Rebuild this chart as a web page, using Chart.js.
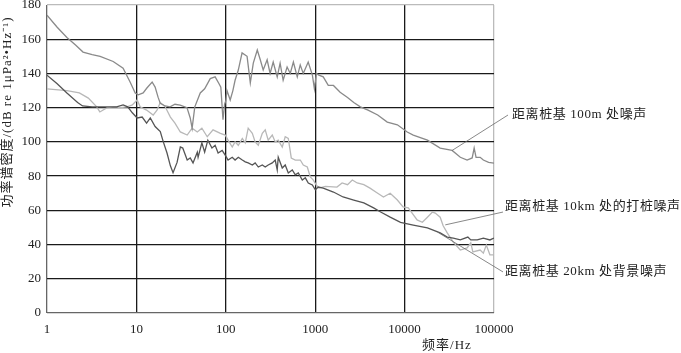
<!DOCTYPE html>
<html>
<head>
<meta charset="utf-8">
<script src="https://cdn.jsdelivr.net/npm/chart.js@4.4.0/dist/chart.umd.min.js"></script>
<style>
    html, body { margin: 0; padding: 0; background: #fff; }
</style>
</head>
<body>
<canvas id="myChart" width="681" height="353"></canvas>
<script>
const xTicks = [1, 10, 100, 1000, 10000, 100000];

// 距离桩基 100m 处噪声
const freqA = [1, 1.3, 1.67, 2.1, 2.53, 3.2, 3.93, 5.5, 7.1, 8.5, 9.7, 10.5, 11.9, 13.1, 15, 16.2, 17.5, 18.5, 21, 23.8, 27, 30.9, 36.8, 40, 42, 45, 51.8, 58, 67, 76, 84, 88, 93, 97, 100, 103, 112, 120, 127, 138, 152, 173, 188, 203, 225, 243, 262, 290, 313, 339, 376, 405, 438, 485, 526, 570, 630, 680, 735, 835, 930, 980, 1030, 1100, 1230, 1400, 1600, 1900, 2300, 2700, 3200, 3900, 5000, 6400, 8300, 10700, 12500, 18000, 25000, 34000, 42000, 50000, 57000, 60000, 63000, 70000, 76000, 87000, 100000];
const dbA = [174, 167, 161, 156.5, 152.5, 151, 150, 147, 143, 135, 128.5, 127.5, 128.6, 131.5, 135, 132, 126, 122.5, 121, 120.5, 122, 121.5, 120, 114, 108, 120.5, 128.6, 131, 137, 138, 134, 132, 113, 122, 124, 130, 124.5, 130, 136, 142, 152, 150, 134.5, 146, 153.7, 148, 142, 148, 140, 146.7, 138, 146, 136, 143.8, 140, 146.7, 138, 145, 140, 146.7, 139, 131, 140, 139, 138, 133, 133, 129, 126, 123, 120.5, 118.6, 115.7, 111.6, 110, 105.8, 104, 101, 96.4, 95, 91, 89.4, 90.6, 96.4, 91, 91, 89.4, 88, 87.6];

// 距离桩基 10km 处的打桩噪声
const freqB = [1, 1.67, 2.3, 2.9, 3.6, 3.9, 4.7, 5.8, 6.6, 7.9, 9, 10.2, 11, 13, 15.4, 17, 18.5, 21, 24, 27, 31, 37, 42, 48, 54, 62, 72, 87, 98.5, 106, 118, 127, 138, 153, 165, 178, 198, 213, 231, 256, 276, 298, 331, 357, 386, 428, 462, 500, 540, 599, 681, 736, 816, 881, 953, 1029, 1100, 1300, 1750, 2000, 2300, 2600, 2950, 3500, 4100, 5000, 5800, 6900, 8300, 9600, 11000, 13800, 15800, 18000, 20500, 22000, 25000, 27000, 30000, 35000, 42000, 50000, 55000, 58000, 70000, 76000, 82000, 90000, 100000];
const dbB = [131, 130, 128.6, 125.6, 120.5, 117.5, 120, 120.5, 120, 120.5, 121.6, 124.5, 120.5, 118.6, 115.7, 118.6, 123, 120.5, 114.5, 111, 105.8, 104, 108, 105.8, 108, 103, 107, 105, 104, 101, 97, 100, 98, 102, 99.4, 108, 105, 100, 98, 105, 107, 101, 104, 100, 101, 97, 103, 102, 90.6, 89.4, 89.4, 86.5, 85.3, 79.5, 77.7, 74.8, 73, 74, 73.6, 76, 75, 77.7, 76, 75, 73, 70, 67.8, 70, 66, 62, 61.4, 54.4, 53, 56, 59, 58.4, 56, 51, 46.8, 41.5, 36.8, 38, 41, 35.7, 36.8, 35, 39.7, 34, 34];

// 距离桩基 20km 处背景噪声
const freqC = [1, 1.3, 1.67, 2.2, 2.5, 3.2, 3.9, 5, 6, 7.1, 8, 9, 10.2, 11.6, 13, 14.3, 16.2, 18.5, 20, 22, 24, 25.7, 28.5, 31, 33, 37, 40, 43, 48, 49, 54, 58, 63, 70, 76, 82, 91, 98.5, 106, 118, 127, 138, 153, 165, 178, 198, 213, 231, 256, 276, 298, 331, 357, 376, 386, 428, 462, 500, 554, 599, 647, 717, 775, 837, 929, 1003, 1083, 1230, 1600, 2050, 2700, 3500, 4500, 5400, 6900, 9000, 12500, 18000, 25000, 30000, 35000, 42000, 51000, 55000, 65000, 76000, 90000, 100000];
const dbC = [139, 134, 128.6, 123, 121, 120.5, 120.5, 120.5, 120.5, 121.6, 120.5, 117, 114, 114.5, 111, 114, 109, 106, 100, 93.5, 86, 82, 88, 97, 96.4, 89.4, 90.6, 87.7, 94, 91, 99.4, 94, 101, 96.4, 98, 93.5, 95, 92.3, 89.4, 91, 89.4, 91, 89.4, 88.3, 87.7, 86.5, 87.7, 85.3, 86.5, 85.3, 86.5, 87.7, 89.4, 83.6, 91, 84.7, 86.5, 81.8, 83.6, 80.7, 81.8, 77.7, 79, 76, 74.8, 72, 73.6, 73, 70.7, 67.8, 66, 64.3, 61.4, 59, 56, 53, 51.4, 49.7, 46.8, 44.4, 43.8, 42.7, 44.4, 42.7, 42.7, 43.8, 42.7, 43.8];

const labels = ['距离桩基 100m 处噪声', '距离桩基 10km 处的打桩噪声', '距离桩基 20km 处背景噪声'];
// point on the curve each leader line starts from
const anchorFreq = [34000, 28500, 23300];
const anchorDb = [95, 51.5, 47.3];

function toPoints(xs, ys) {
    return xs.map((x, i) => ({ x: x, y: ys[i] }));
}

const serif = "'Liberation Serif', 'DejaVu Serif', serif";
const mixed = "'Liberation Serif', 'Noto Sans CJK SC', serif";

const annotate = {
    id: 'annotate',
    afterDraw(chart) {
        const ctx = chart.ctx;
        const xs = chart.scales.x;
        const ys = chart.scales.y;
        const right = chart.chartArea.right;

        // leader end (px offset from right edge, dB) and text (px offset, dB)
        const ends = [[14, 115.7], [9, 59], [9, 24]];
        const texts = [[18, 115.7], [11, 62], [11, 24]];

        ctx.save();
        ctx.strokeStyle = '#6a6a6a';
        ctx.lineWidth = 0.8;
        for (let i = 0; i < labels.length; i++) {
            ctx.beginPath();
            ctx.moveTo(xs.getPixelForValue(anchorFreq[i]), ys.getPixelForValue(anchorDb[i]));
            ctx.lineTo(right + ends[i][0], ys.getPixelForValue(ends[i][1]));
            ctx.stroke();
        }

        ctx.fillStyle = '#222';
        ctx.font = '13px ' + mixed;
        ctx.letterSpacing = '0.6px';
        ctx.textAlign = 'left';
        ctx.textBaseline = 'middle';
        for (let i = 0; i < labels.length; i++) {
            ctx.fillText(labels[i], right + texts[i][0], ys.getPixelForValue(texts[i][1]));
        }

        // axis titles
        ctx.letterSpacing = '1px';
        ctx.textAlign = 'center';
        ctx.fillText('频率/Hz', 447, 346);

        ctx.translate(8, 112);
        ctx.rotate(-Math.PI / 2);
        ctx.fillText('功率谱密度/(dB re 1μPa²•Hz⁻¹)', 0, 0);
        ctx.restore();
    }
};

function gridColor(min, max) {
    return function (c) {
        if (!c.tick) return '#222';
        if (c.tick.value === min) return '#666';
        if (c.tick.value === max) return '#bbb';
        return '#1a1a1a';
    };
}

const ctx = document.getElementById('myChart').getContext('2d');
const myChart = new Chart(ctx, {
    type: 'line',
    data: {
        datasets: [{
                label: labels[2],
                data: toPoints(freqC, dbC),
                borderColor: '#555555',
                borderWidth: 1.3
            },
            {
                label: labels[0],
                data: toPoints(freqA, dbA),
                borderColor: '#8a8a8a',
                borderWidth: 1.3
            },
            {
                label: labels[1],
                data: toPoints(freqB, dbB),
                borderColor: '#b8b8b8',
                borderWidth: 1.3
            }
        ]
    },
    options: {
        responsive: false,
        animation: false,
        devicePixelRatio: 1,
        layout: { padding: { top: 5, right: 187, left: 0, bottom: 0 } },
        elements: { point: { radius: 0 }, line: { tension: 0, fill: false } },
        plugins: { legend: { display: false }, tooltip: { enabled: false } },
        scales: {
            x: {
                type: 'logarithmic',
                min: 1,
                max: 100000,
                afterBuildTicks: scale => { scale.ticks = xTicks.map(v => ({ value: v })); },
                afterFit: scale => { scale.height = 40; },
                ticks: {
                    callback: v => String(v),
                    autoSkip: false,
                    maxRotation: 0,
                    padding: 9,
                    color: '#222',
                    font: { family: serif, size: 13 }
                },
                grid: { color: gridColor(1, 100000), lineWidth: 1.3, drawTicks: false },
                border: { display: false }
            },
            y: {
                min: 0,
                max: 180,
                ticks: {
                    stepSize: 20,
                    padding: 6,
                    color: '#222',
                    font: { family: serif, size: 13 }
                },
                afterFit: scale => {
                    scale.width = 47;
                    scale.paddingTop = 0;
                    scale.paddingBottom = 0;
                },
                grid: { color: gridColor(0, 180), lineWidth: 1.3, drawTicks: false },
                border: { display: false }
            }
        }
    },
    plugins: [annotate]
});
</script>
</body>
</html>
